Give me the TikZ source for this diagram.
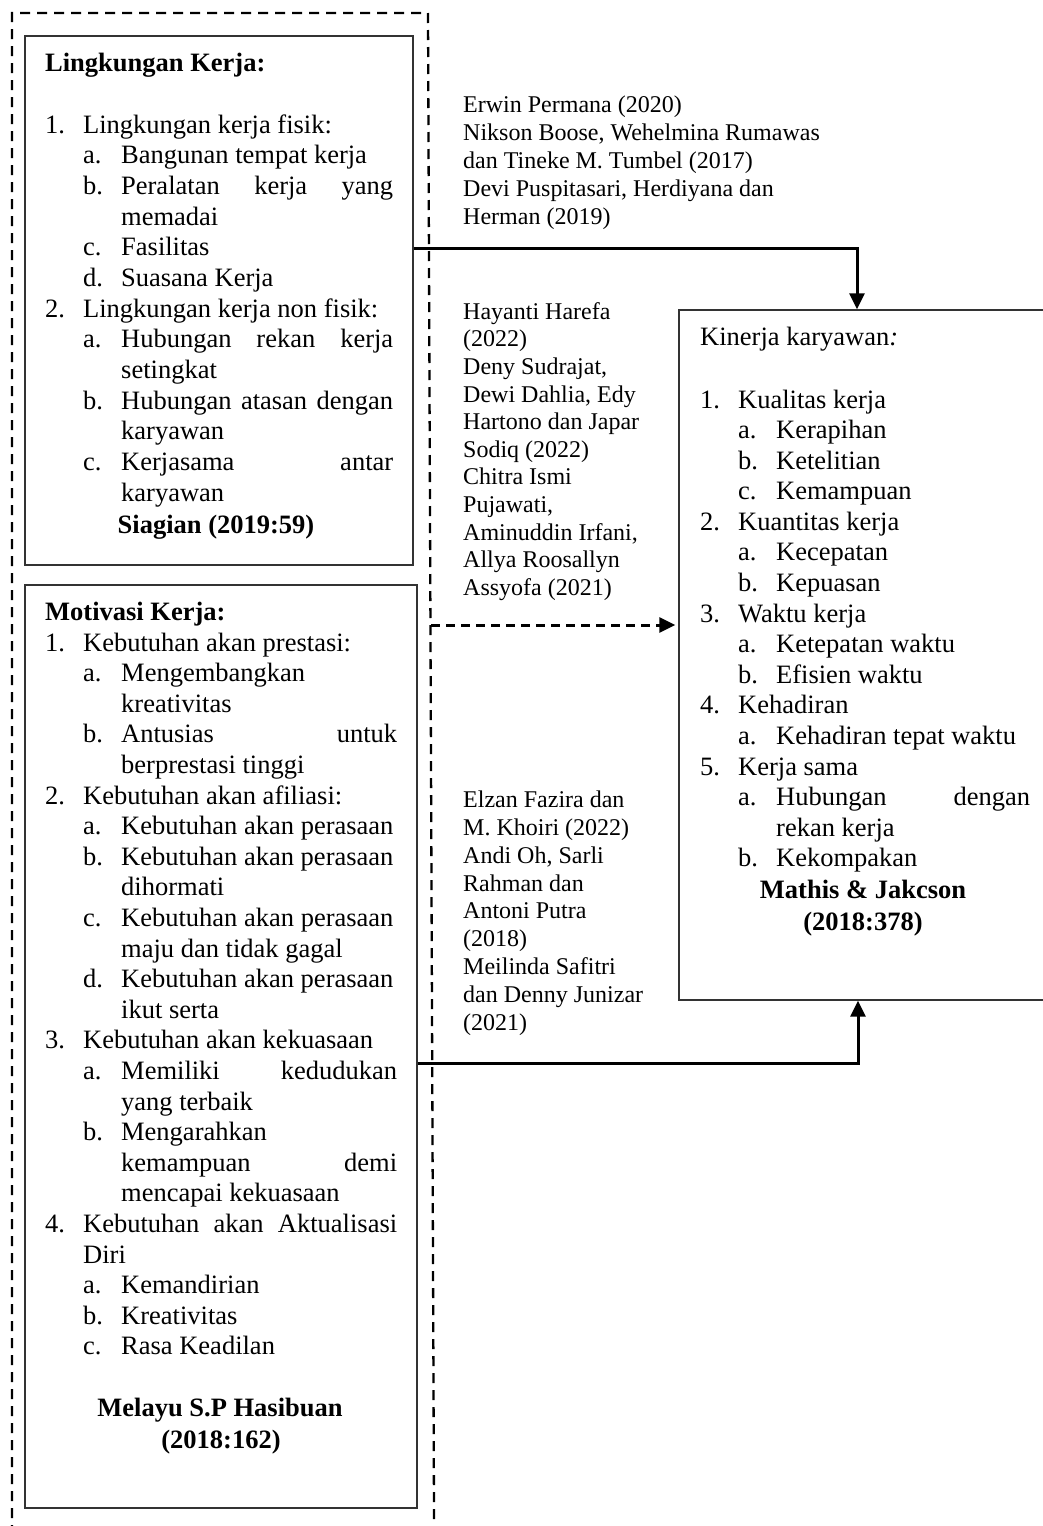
\documentclass[tikz,border=0pt]{standalone}
\usepackage{fontspec}
\setmainfont{Liberation Serif}
\usetikzlibrary{arrows.meta}
\newcommand\lbl[1]{\makebox[38pt][l]{#1}}
\newcommand\jst[2]{\makebox[#1pt][s]{#2}}
\tikzset{
  boxsty/.style={draw=black!80, line width=1.4pt, inner sep=0pt, rectangle},
  conn/.style={line width=3pt, -{Triangle[length=16pt,width=15pt]}},
  dconn/.style={line width=3pt, dash pattern=on 9pt off 6pt, -{Triangle[length=16pt,width=15pt]}},
  framesty/.style={line width=2.3pt, dash pattern=on 10pt off 7pt},
  txt/.style={anchor=base west, inner sep=0pt, font=\fontsize{26.5}{30.5}\selectfont},
  btxt/.style={anchor=base west, inner sep=0pt, font=\bfseries\fontsize{26.5}{30.5}\selectfont},
  ctxt/.style={anchor=base, inner sep=0pt, font=\bfseries\fontsize{26.5}{30.5}\selectfont},
  cit/.style={anchor=base west, inner sep=0pt, font=\fontsize{24}{28}\selectfont},
}
\begin{document}
\begin{tikzpicture}[x=1pt,y=-1pt]
\useasboundingbox (0,0) rectangle (1043,1526);
\clip (0,0) rectangle (1043,1526);
\fill[white] (0,0) rectangle (1043,1526);

% dashed frame
\draw[framesty] (12,1535) -- (12,13) -- (428,13) -- (434.1,1535);

% boxes
\node[boxsty, minimum width=388pt, minimum height=529pt] (b1) at (219,300.5) {};
\node[boxsty, minimum width=392pt, minimum height=923pt] (b2) at (221,1046.5) {};
\node[boxsty, minimum width=381pt, minimum height=690pt] (b3) at (869.5,655) {};

% box 1 text
\node[btxt] (h1) at (45,71) {Lingkungan Kerja:};
\node[txt] (a01) at (45,133) {\lbl{1.}Lingkungan kerja fisik:};
\node[txt] (a02) at (83,163.67) {\lbl{a.}Bangunan tempat kerja};
\node[txt] (a03) at (83,194.33) {\lbl{b.}\jst{272}{Peralatan kerja yang}};
\node[txt] (a04) at (121,225) {memadai};
\node[txt] (a05) at (83,255.67) {\lbl{c.}Fasilitas};
\node[txt] (a06) at (83,286.33) {\lbl{d.}Suasana Kerja};
\node[txt] (a07) at (45,317) {\lbl{2.}Lingkungan kerja non fisik:};
\node[txt] (a08) at (83,347.67) {\lbl{a.}\jst{272}{Hubungan rekan kerja}};
\node[txt] (a09) at (121,378.33) {setingkat};
\node[txt] (a10) at (83,409) {\lbl{b.}\jst{272}{Hubungan atasan dengan}};
\node[txt] (a11) at (121,439.67) {karyawan};
\node[txt] (a12) at (83,470.33) {\lbl{c.}\jst{272}{Kerjasama antar}};
\node[txt] (a13) at (121,501) {karyawan};
\node[ctxt] (s1) at (216,533) {Siagian (2019:59)};

% box 2 text
\node[btxt] (h2) at (45,620) {Motivasi Kerja:};
\node[txt] (m00) at (45,651) {\lbl{1.}Kebutuhan akan prestasi:};
\node[txt] (m01) at (83,681.6) {\lbl{a.}Mengembangkan};
\node[txt] (m02) at (121,712.2) {kreativitas};
\node[txt] (m03) at (83,742.8) {\lbl{b.}\jst{276}{Antusias untuk}};
\node[txt] (m04) at (121,773.4) {berprestasi tinggi};
\node[txt] (m05) at (45,804) {\lbl{2.}Kebutuhan akan afiliasi:};
\node[txt] (m06) at (83,834.6) {\lbl{a.}Kebutuhan akan perasaan};
\node[txt] (m07) at (83,865.2) {\lbl{b.}Kebutuhan akan perasaan};
\node[txt] (m08) at (121,895.8) {dihormati};
\node[txt] (m09) at (83,926.4) {\lbl{c.}Kebutuhan akan perasaan};
\node[txt] (m10) at (121,957) {maju dan tidak gagal};
\node[txt] (m11) at (83,987.6) {\lbl{d.}Kebutuhan akan perasaan};
\node[txt] (m12) at (121,1018.2) {ikut serta};
\node[txt] (m13) at (45,1048.8) {\lbl{3.}Kebutuhan akan kekuasaan};
\node[txt] (m14) at (83,1079.4) {\lbl{a.}\jst{276}{Memiliki kedudukan}};
\node[txt] (m15) at (121,1110) {yang terbaik};
\node[txt] (m16) at (83,1140.6) {\lbl{b.}Mengarahkan};
\node[txt] (m17) at (121,1171.2) {\jst{276}{kemampuan demi}};
\node[txt] (m18) at (121,1201.8) {mencapai kekuasaan};
\node[txt] (m19) at (45,1232.4) {\lbl{4.}\jst{314}{Kebutuhan akan Aktualisasi}};
\node[txt] (m20) at (83,1263) {Diri};
\node[txt] (m21) at (83,1293.6) {\lbl{a.}Kemandirian};
\node[txt] (m22) at (83,1324.2) {\lbl{b.}Kreativitas};
\node[txt] (m23) at (83,1354.8) {\lbl{c.}Rasa Keadilan};
\node[ctxt] (s2a) at (220,1416) {Melayu S.P Hasibuan};
\node[ctxt] (s2b) at (221,1448) {(2018:162)};

% box 3 text
\node[txt] (h3) at (700,345) {Kinerja karyawan\textit{:}};
\node[txt] (k00) at (700,408) {\lbl{1.}Kualitas kerja};
\node[txt] (k01) at (738,438.6) {\lbl{a.}Kerapihan};
\node[txt] (k02) at (738,469.2) {\lbl{b.}Ketelitian};
\node[txt] (k03) at (738,499.7) {\lbl{c.}Kemampuan};
\node[txt] (k04) at (700,530.3) {\lbl{2.}Kuantitas kerja};
\node[txt] (k05) at (738,560.9) {\lbl{a.}Kecepatan};
\node[txt] (k06) at (738,591.5) {\lbl{b.}Kepuasan};
\node[txt] (k07) at (700,622.1) {\lbl{3.}Waktu kerja};
\node[txt] (k08) at (738,652.6) {\lbl{a.}Ketepatan waktu};
\node[txt] (k09) at (738,683.2) {\lbl{b.}Efisien waktu};
\node[txt] (k10) at (700,713.8) {\lbl{4.}Kehadiran};
\node[txt] (k11) at (738,744.4) {\lbl{a.}Kehadiran tepat waktu};
\node[txt] (k12) at (700,775) {\lbl{5.}Kerja sama};
\node[txt] (k13) at (738,805.5) {\lbl{a.}\jst{254}{Hubungan dengan}};
\node[txt] (k14) at (776,836.1) {rekan kerja};
\node[txt] (k15) at (738,866.7) {\lbl{b.}Kekompakan};
\node[ctxt] (s3a) at (863,898) {Mathis \& Jakcson};
\node[ctxt] (s3b) at (863,930) {(2018:378)};

% citations group 1
\node[cit] (g1a) at (463,112.8) {Erwin Permana (2020)};
\node[cit] (g1b) at (463,140.7) {Nikson Boose, Wehelmina Rumawas};
\node[cit] (g1c) at (463,168.6) {dan Tineke M. Tumbel (2017)};
\node[cit] (g1d) at (463,196.5) {Devi Puspitasari, Herdiyana dan};
\node[cit] (g1e) at (463,224.4) {Herman (2019)};

% citations group 2
\node[cit] (g2a) at (463,319.3) {Hayanti Harefa};
\node[cit] (g2b) at (463,346.9) {(2022)};
\node[cit] (g2c) at (463,374.5) {Deny Sudrajat,};
\node[cit] (g2d) at (463,402.1) {Dewi Dahlia, Edy};
\node[cit] (g2e) at (463,429.7) {Hartono dan Japar};
\node[cit] (g2f) at (463,457.3) {Sodiq (2022)};
\node[cit] (g2g) at (463,484.9) {Chitra Ismi};
\node[cit] (g2h) at (463,512.5) {Pujawati,};
\node[cit] (g2i) at (463,540.1) {Aminuddin Irfani,};
\node[cit] (g2j) at (463,567.7) {Allya Roosallyn};
\node[cit] (g2k) at (463,595.3) {Assyofa (2021)};

% citations group 3
\node[cit] (g3a) at (463,807.3) {Elzan Fazira dan};
\node[cit] (g3b) at (463,835.2) {M. Khoiri (2022)};
\node[cit] (g3c) at (463,863.1) {Andi Oh, Sarli};
\node[cit] (g3d) at (463,891) {Rahman dan};
\node[cit] (g3e) at (463,918.9) {Antoni Putra};
\node[cit] (g3f) at (463,946.8) {(2018)};
\node[cit] (g3g) at (463,974.7) {Meilinda Safitri};
\node[cit] (g3h) at (463,1002.6) {dan Denny Junizar};
\node[cit] (g3i) at (463,1030.5) {(2021)};

% connectors
\coordinate (c1) at (857,248);
\coordinate (c3) at (858,1063);
\coordinate (ds) at (431,625);
\draw[conn] (b1.east |- c1) -- (c1) -- (c1 |- b3.north);
\draw[conn] (b2.east |- c3) -- (c3) -- (c3 |- b3.south);
\draw[dconn] (ds) -- ([xshift=-3pt]b3.west |- ds);
\end{tikzpicture}
\end{document}
